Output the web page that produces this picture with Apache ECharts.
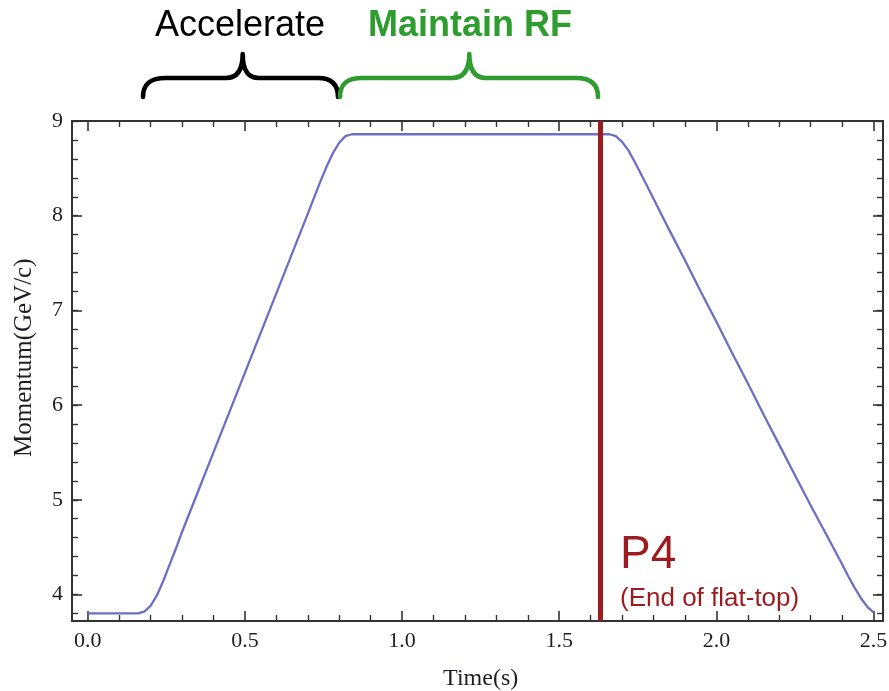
<!DOCTYPE html>
<html>
<head>
<meta charset="utf-8">
<script src="https://cdn.jsdelivr.net/npm/echarts@6/dist/echarts.min.js"></script>
<style>
  html, body { margin: 0; padding: 0; background: #fff; }
  #chart { width: 889px; height: 691px; }
</style>
</head>
<body>
<div id="chart"></div>
<script>
// Momentum ramp of one machine cycle: time (s) and momentum (GeV/c)
const timeS = [
  0.00, 0.10, 0.16, 0.18, 0.20, 0.22, 0.24, 0.26, 0.28, 0.30,
  0.35, 0.40, 0.45, 0.50, 0.55, 0.60, 0.65, 0.70, 0.72, 0.74,
  0.76, 0.78, 0.80, 0.82, 0.84, 0.90, 1.00, 1.20, 1.40, 1.60,
  1.66, 1.68, 1.70, 1.72, 1.74, 1.76, 1.78, 1.80, 1.85, 1.90,
  1.95, 2.00, 2.05, 2.10, 2.15, 2.20, 2.25, 2.30, 2.35, 2.40,
  2.42, 2.44, 2.46, 2.48, 2.50
];
const momentum = [
  3.80, 3.80, 3.80, 3.82, 3.88, 3.99, 4.14, 4.31, 4.48, 4.66,
  5.08, 5.50, 5.92, 6.34, 6.76, 7.18, 7.60, 8.02, 8.19, 8.36,
  8.52, 8.66, 8.77, 8.84, 8.86, 8.86, 8.86, 8.86, 8.86, 8.86,
  8.86, 8.84, 8.78, 8.69, 8.57, 8.44, 8.31, 8.18, 7.85, 7.53,
  7.20, 6.88, 6.55, 6.23, 5.90, 5.58, 5.26, 4.94, 4.63, 4.32,
  4.19, 4.07, 3.96, 3.87, 3.81
];

// Cycle marker: end of flat-top
const p4Time = 1.634;

// Axis ranges and tick settings
const xRange = [-0.05, 2.53];
const yRange = [3.72, 9.0];
const xTickRange = [0, 2.5];
const xTickStep = 0.5;
const yMinorRange = [3.8, 9.0];
const yMinorStep = 0.2;
const yMajorRange = [4, 9];
const yMajorStep = 1;

// Phase labels above the plot
const phaseLabels = ['Accelerate', 'Maintain RF'];

// ---- layout ----
const W = 889, H = 691;
const frame = { left: 72, top: 121, right: 883, bottom: 621 };
const sx = t => frame.left + (t - xRange[0]) / (xRange[1] - xRange[0]) * (frame.right - frame.left);
const sy = v => frame.bottom - (v - yRange[0]) / (yRange[1] - yRange[0]) * (frame.bottom - frame.top);

const tickLeft = sx(xTickRange[0]);
const tickRight = sx(xTickRange[1]);
const serif = '"Liberation Serif", "Times New Roman", serif';
const sans = '"Liberation Sans", Arial, Helvetica, sans-serif';
const axisInk = '#333';
const labelInk = '#1e1e28';
const curveColor = '#6e6ec6';
const markerRed = '#9b1b1f';
const green = '#2e9c2e';

// Curly braces over the two phases
echarts.graphic.registerShape('braceAccelerate', echarts.graphic.extendPath(
  'M143,97 C143,84 150,78 166,78 L226,78 C236,78 242.7,72 242.7,54 C242.7,72 249,78 259,78 L318,78 C331,78 338,84 338,97', {}));
echarts.graphic.registerShape('braceMaintain', echarts.graphic.extendPath(
  'M340,97 C340,84 347,78 362,78 L452,78 C462,78 469.3,72 469.3,54 C469.3,72 476,78 486,78 L576,78 C590,78 598,84 598,97', {}));

const chart = echarts.init(document.getElementById('chart'), null, { renderer: 'canvas' });

const hiddenAxis = (gridIndex, range) => ({
  type: 'value', gridIndex, min: range[0], max: range[1], show: false,
  axisLine: { show: false, onZero: false }
});

const tickAxisX = (position, withLabels) => ({
  type: 'value', gridIndex: 1, position,
  min: xTickRange[0], max: xTickRange[1], interval: xTickStep,
  offset: position === 'bottom' ? frame.bottom - sy(yMinorRange[0]) : 0,
  axisLine: { show: false, onZero: false },
  axisTick: { show: true, inside: true, length: 10, lineStyle: { color: axisInk, width: 1.6 } },
  minorTick: { show: true, splitNumber: 5, length: 6, lineStyle: { color: axisInk, width: 1.4 } },
  splitLine: { show: false },
  axisLabel: {
    show: withLabels, margin: 9, color: labelInk, fontFamily: serif, fontSize: 22,
    formatter: v => v.toFixed(1)
  },
  name: withLabels ? 'Time(s)' : '',
  nameLocation: 'middle', nameGap: 46, nameMoveOverlap: false,
  nameTextStyle: { color: labelInk, fontFamily: serif, fontSize: 24 }
});

const minorAxisY = (position) => ({
  type: 'value', gridIndex: 1, position,
  min: yMinorRange[0], max: yMinorRange[1], interval: yMinorStep,
  offset: position === 'left' ? tickLeft - frame.left : frame.right - tickRight,
  axisLine: { show: false, onZero: false },
  axisTick: { show: true, inside: true, length: 6, lineStyle: { color: axisInk, width: 1.4 } },
  axisLabel: { show: false },
  splitLine: { show: false }
});

const majorAxisY = (position, withLabels) => ({
  type: 'value', gridIndex: 2, position,
  min: yMajorRange[0], max: yMajorRange[1], interval: yMajorStep,
  offset: position === 'left' ? tickLeft - frame.left : frame.right - tickRight,
  axisLine: { show: false, onZero: false },
  axisTick: { show: true, inside: true, length: 10, lineStyle: { color: axisInk, width: 1.6 } },
  axisLabel: { show: withLabels, margin: 9, color: labelInk, fontFamily: serif, fontSize: 22 },
  splitLine: { show: false },
  name: withLabels ? 'Momentum(GeV/c)' : '',
  nameLocation: 'middle', nameGap: 35, nameRotate: 90, nameMoveOverlap: false,
  nameTextStyle: { color: labelInk, fontFamily: serif, fontSize: 25 }
});

const option = {
  animation: false,
  backgroundColor: '#fff',
  grid: [
    { // plot frame and data
      left: frame.left, top: frame.top,
      width: frame.right - frame.left, height: frame.bottom - frame.top,
      show: true, borderColor: axisInk, borderWidth: 2, backgroundColor: 'transparent',
      outerBoundsMode: 'none'
    },
    { // minor ticks
      left: tickLeft, right: W - tickRight,
      top: sy(yMinorRange[1]), bottom: H - sy(yMinorRange[0]),
      outerBoundsMode: 'none'
    },
    { // major y ticks and labels
      left: tickLeft, right: W - tickRight,
      top: sy(yMajorRange[1]), bottom: H - sy(yMajorRange[0]),
      outerBoundsMode: 'none'
    }
  ],
  xAxis: [
    hiddenAxis(0, xRange),
    tickAxisX('bottom', true),
    tickAxisX('top', false),
    hiddenAxis(2, xTickRange)
  ],
  yAxis: [
    hiddenAxis(0, yRange),
    minorAxisY('left'),
    minorAxisY('right'),
    majorAxisY('left', true),
    majorAxisY('right', false)
  ],
  series: [{
    type: 'line',
    xAxisIndex: 0, yAxisIndex: 0,
    data: timeS.map((t, i) => [t, momentum[i]]),
    showSymbol: false,
    smooth: false,
    lineStyle: { color: curveColor, width: 2.3 },
    z: 3,
    markLine: {
      silent: true,
      symbol: ['none', 'none'],
      label: { show: false },
      lineStyle: { color: markerRed, width: 5, type: 'solid' },
      data: [{ xAxis: p4Time }]
    }
  }],
  graphic: [
    {
      type: 'text',
      x: 240, y: 26,
      style: { text: phaseLabels[0], fill: '#000', font: `36px ${sans}`, textAlign: 'center', textVerticalAlign: 'middle' }
    },
    {
      type: 'text',
      x: 470, y: 26,
      style: { text: phaseLabels[1], fill: green, font: `bold 36px ${sans}`, textAlign: 'center', textVerticalAlign: 'middle' }
    },
    {
      type: 'braceAccelerate',
      style: { fill: 'none', stroke: '#000', lineWidth: 4.6, lineCap: 'round', lineJoin: 'round' }
    },
    {
      type: 'braceMaintain',
      style: { fill: 'none', stroke: green, lineWidth: 4.6, lineCap: 'round', lineJoin: 'round' }
    },
    {
      type: 'text',
      x: 620, y: 555,
      style: { text: 'P4', fill: markerRed, font: `46px ${sans}`, textAlign: 'left', textVerticalAlign: 'middle' }
    },
    {
      type: 'text',
      x: 620, y: 599,
      style: { text: '(End of flat-top)', fill: markerRed, font: `26px ${sans}`, textAlign: 'left', textVerticalAlign: 'middle' }
    }
  ]
};

chart.setOption(option);
</script>
</body>
</html>
